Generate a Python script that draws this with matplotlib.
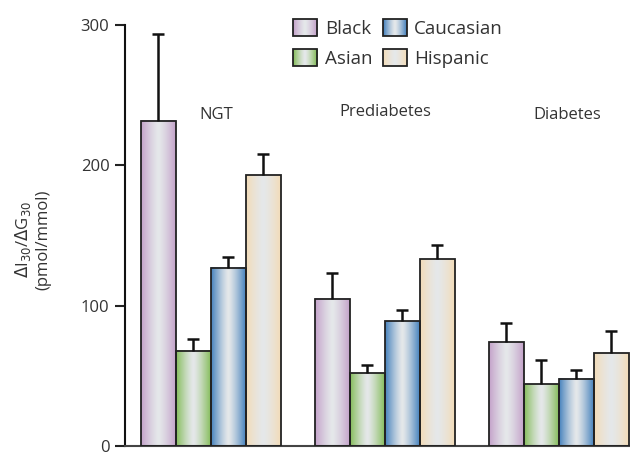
import numpy as np
import matplotlib
matplotlib.use('Agg')
import matplotlib.pyplot as plt
from matplotlib.colors import to_rgb
from matplotlib.patches import Rectangle
from matplotlib.legend_handler import HandlerBase

plt.rcParams['font.family'] = ['Open Sans', 'DejaVu Sans']

groups = ['NGT', 'Prediabetes', 'Diabetes']
ethnic = ['Black', 'Asian', 'Caucasian', 'Hispanic']
means = {
    'Black':     [232, 105, 74],
    'Asian':     [68, 52, 44],
    'Caucasian': [127, 89, 48],
    'Hispanic':  [193, 133, 66],
}
errs = {
    'Black':     [62, 18, 14],
    'Asian':     [8, 6, 17],
    'Caucasian': [8, 8, 6],
    'Hispanic':  [15, 10, 16],
}
edge_cols = {'Black': '#c4a2ca', 'Asian': '#86bd5c', 'Caucasian': '#4682bd', 'Hispanic': '#f3dcb8'}
mid_col = '#e5e8ea'


def grad_row(col, n=64):
    c = np.array(to_rgb(col))
    m = np.array(to_rgb(mid_col))
    t = np.linspace(-1, 1, n)
    w = np.abs(t) ** 1.3
    return (m[None, :] * (1 - w[:, None]) + c[None, :] * w[:, None])


class GradHandler(HandlerBase):
    def create_artists(self, legend, orig, xd, yd, width, height, fontsize, trans):
        col = orig.get_facecolor()
        rows = grad_row(col, 24)
        arts = []
        n = len(rows)
        for i, rgb in enumerate(rows):
            r = Rectangle((-xd + width * i / n, -yd), width / n + 0.3, height,
                          facecolor=rgb, edgecolor='none', transform=trans)
            arts.append(r)
        arts.append(Rectangle((-xd, -yd), width, height, facecolor='none',
                              edgecolor='#222222', lw=1.3, transform=trans))
        return arts


fig = plt.figure(figsize=(6.3, 4.54), dpi=100)
ax = fig.add_axes([0.198, 0.0176, 0.802, 0.927])

x = np.arange(len(groups))
w = 0.201
offs = [-1.5, -0.5, 0.5, 1.5]
handles = []
for k, e in enumerate(ethnic):
    xs = x + offs[k] * w
    bars = ax.bar(xs, means[e], w, facecolor='none', edgecolor='#222222', lw=1.3, zorder=3)
    img = grad_row(edge_cols[e])[None, :, :]
    for b in bars:
        ax.imshow(img, extent=(b.get_x(), b.get_x() + b.get_width(), 0, b.get_height()),
                  aspect='auto', zorder=2, interpolation='bilinear')
    eb = ax.errorbar(xs, means[e], yerr=[np.zeros(3), errs[e]], fmt='none', ecolor='#111111',
                     elinewidth=1.8, capsize=4.5, capthick=1.8, zorder=4)
    eb[1][0].set_visible(False)  # no cap at bar top
    handles.append(Rectangle((0, 0), 1, 1, facecolor=edge_cols[e], label=e))

ax.set_xlim(-0.494, 2.408)
ax.set_ylim(0, 300)
ax.set_yticks([0, 100, 200, 300])
ax.tick_params(axis='y', direction='out', length=7, width=1.5, labelsize=12, colors='#222222',
               labelcolor='#333333', pad=4)
ax.tick_params(axis='x', length=0, labelbottom=False)
for s in ['top', 'right']:
    ax.spines[s].set_visible(False)
ax.spines['left'].set_linewidth(1.5)
ax.spines['bottom'].set_linewidth(1.5)
ax.spines['bottom'].set_color('#444444')
ax.spines['left'].set_color('#111111')
ax.set_facecolor('none')

label_pos = [(0.03, 236), (1.0, 238), (2.05, 236)]
for g, (px, py) in zip(groups, label_pos):
    ax.text(px, py, g, ha='center', va='center', fontsize=12, color='#333333')

ax.set_ylabel('$\\Delta$I$_{30}$/$\\Delta$G$_{30}$\n(pmol/mmol)', fontsize=12, color='#333333')
ax.yaxis.set_label_coords(-0.145, 0.49)

leg = ax.legend(handles=handles, ncol=2, frameon=False, fontsize=13.5,
                handler_map={Rectangle: GradHandler()}, handlelength=1.28, handleheight=1.0,
                handletextpad=0.4, columnspacing=0.55, labelspacing=0.6,
                loc='upper left', bbox_to_anchor=(0.30, 1.055))
for t in leg.get_texts():
    t.set_color('#333333')

fig.savefig('out.png', dpi=100)
